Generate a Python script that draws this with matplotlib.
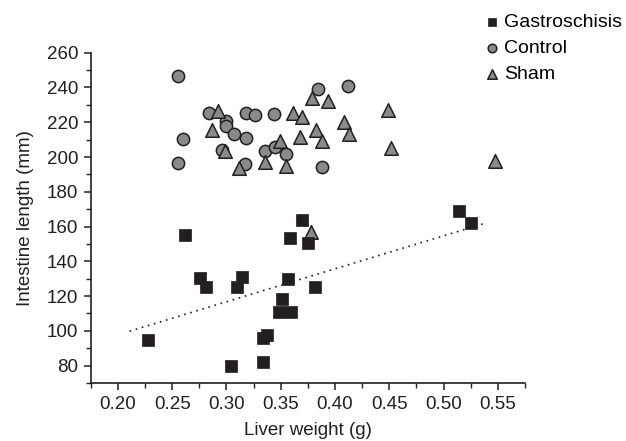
import matplotlib
matplotlib.use("Agg")
import matplotlib.pyplot as plt
from matplotlib.ticker import MultipleLocator, FormatStrFormatter

plt.rcParams['font.family'] = ['Liberation Sans', 'DejaVu Sans']

# Gastroschisis (liver weight g, intestine length mm)
gas_x = [0.2275, 0.2614, 0.276, 0.2816, 0.3045, 0.3098, 0.314, 0.3333, 0.334, 0.337,
         0.3485, 0.351, 0.3568, 0.3584, 0.3593, 0.3696, 0.375, 0.3816, 0.5142, 0.5255]
gas_y = [95, 155.3, 130.3, 125, 80, 125, 130.7, 82, 96, 97.5,
         111.1, 118.2, 130.1, 153.6, 111.1, 163.6, 150.7, 125.4, 168.8, 162.2]

# Control
ctl_x = [0.255, 0.2838, 0.318, 0.3263, 0.2997, 0.2997, 0.307, 0.318, 0.2596, 0.296,
         0.255, 0.3171, 0.3354, 0.344, 0.3847, 0.4118, 0.3446, 0.3547, 0.388]
ctl_y = [246.4, 225.6, 225.6, 224.1, 220.6, 217.8, 213.1, 211, 210.4, 203.9,
         196.4, 195.7, 203.3, 224.7, 238.9, 241, 205.6, 201.6, 194.3]

# Sham
sham_x = [0.2923, 0.2868, 0.2987, 0.3119, 0.3354, 0.3492, 0.3547, 0.3614, 0.3675, 0.3696,
          0.3788, 0.3828, 0.388, 0.3935, 0.4079, 0.4127, 0.4489, 0.4519, 0.5475, 0.378]
sham_y = [226.4, 215.8, 203.3, 193.7, 197.2, 209.1, 194.9, 225.6, 211.6, 222.8,
          233.7, 215.4, 209.3, 232.3, 219.9, 213.1, 227, 205.4, 197.6, 156.8]

# Trend line (gastroschisis)
trend_x = [0.2108, 0.5387]
trend_y = [99.8, 162.0]

fig = plt.figure(figsize=(6.26, 4.41), dpi=100)
ax = fig.add_axes([0.1449, 0.1315, 0.8387 - 0.1449, 0.8805 - 0.1315])

gray = '#8a8a8a'
edge = '#231f20'

ax.plot(trend_x, trend_y, linestyle=(0, (1, 2.8)), color='#231f20', linewidth=1.2, zorder=1)
ax.scatter(ctl_x, ctl_y, s=78, marker='o', facecolor=gray, edgecolor=edge, linewidth=1.1,
           zorder=2, label='Control')
ax.scatter(sham_x, sham_y, s=95, marker='^', facecolor=gray, edgecolor=edge, linewidth=1.1,
           zorder=3, label='Sham')
ax.scatter(gas_x, gas_y, s=70, marker='s', facecolor='#231f20', edgecolor='#231f20',
           linewidth=0.5, zorder=4, label='Gastroschisis')

ax.set_xlim(0.175, 0.575)
ax.set_ylim(70, 260)
ax.xaxis.set_minor_locator(MultipleLocator(0.025))
ax.yaxis.set_minor_locator(MultipleLocator(10))
ax.set_xticks([0.20, 0.25, 0.30, 0.35, 0.40, 0.45, 0.50, 0.55])
ax.xaxis.set_major_formatter(FormatStrFormatter('%.2f'))
ax.set_yticks([80, 100, 120, 140, 160, 180, 200, 220, 240, 260])

for s in ['top', 'right']:
    ax.spines[s].set_visible(False)
for s in ['left', 'bottom']:
    ax.spines[s].set_color('#231f20')
    ax.spines[s].set_linewidth(1.2)

ax.tick_params(axis='both', which='major', direction='out', length=5, width=1.1,
               colors='#231f20', labelsize=13.5, pad=4)
ax.tick_params(axis='both', which='minor', direction='out', length=3.5, width=1.0,
               colors='#231f20')

ax.set_xlabel('Liver weight (g)', fontsize=13.5, color='#231f20', labelpad=7)
ax.set_ylabel('Intestine length (mm)', fontsize=13.5, color='#231f20', labelpad=9)

h, l = ax.get_legend_handles_labels()
order = [2, 0, 1]
fig.legend([h[i] for i in order], [l[i] for i in order], loc='upper left',
           bbox_to_anchor=(476 / 626, 1 - 6 / 441), frameon=False, fontsize=14,
           markerscale=0.7, handletextpad=0.24, labelspacing=0.42, handlelength=0.8,
           borderaxespad=0)

fig.savefig('out.png', dpi=100)
